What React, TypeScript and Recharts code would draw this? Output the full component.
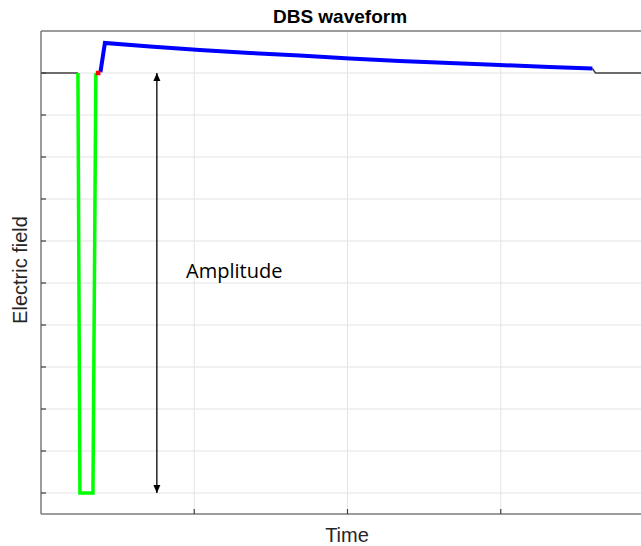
import React from "react";
import { LineChart, Line, XAxis, YAxis, CartesianGrid } from "recharts";

// time axis (arbitrary units) and electric field (normalised to amplitude)
const timeTicks = [1, 2, 3];
const fieldTicks = [-1, -0.9, -0.8, -0.7, -0.6, -0.5, -0.4, -0.3, -0.2, -0.1, 0];

const preTime = [0, 0.241];
const preField = [0, 0];

const cathodicTime = [0.241, 0.254, 0.339, 0.358];
const cathodicField = [0, -1, -1, 0];

const gapTime = [0.358, 0.388];
const gapField = [0, 0];

const anodicTime = [0.388, 0.417, 0.711, 1.036, 1.362, 1.688, 2.014, 2.34, 2.666, 2.992, 3.318, 3.598];
const anodicField = [0.002, 0.0714, 0.0631, 0.0548, 0.0476, 0.0417, 0.0345, 0.0286, 0.0238, 0.019, 0.0143, 0.0107];

const postTime = [3.598, 3.618, 4];
const postField = [0.0107, 0, 0];

const amplitudeTime = [0.756, 0.756];
const amplitudeField = [0, -1];

const zip = (xs: number[], ys: number[]) => xs.map((x, i) => ({ x, y: ys[i] }));

const NoLabel = () => <g />;

const ArrowHead = (props: any) => {
  const { cx, cy, index } = props;
  const dir = index === 0 ? 1 : -1;
  return (
    <path
      key={`arrow-${index}`}
      d={`M${cx},${cy} L${cx - 3.5},${cy + dir * 8} L${cx + 3.5},${cy + dir * 8} Z`}
      fill="#000"
    />
  );
};

const font = "'Liberation Sans', Arial, Helvetica, sans-serif";

export default function App() {
  return (
    <div style={{ position: "absolute", left: 0, top: 0, width: 641, height: 546, overflow: "hidden", background: "#fff" }}>
      <LineChart width={660} height={546} margin={{ top: 31, right: 6, bottom: 32, left: 41 }}>
        <CartesianGrid stroke="#e3e3e3" strokeWidth={1} />
        <XAxis
          type="number"
          dataKey="x"
          domain={[0, 4]}
          ticks={timeTicks}
          tick={NoLabel}
          mirror
          height={1}
          tickSize={5}
          axisLine={{ stroke: "#7f7f7f", strokeWidth: 1.5 }}
          tickLine={{ stroke: "#404040", strokeWidth: 1.2 }}
        />
        <XAxis
          xAxisId="top"
          orientation="top"
          type="number"
          dataKey="x"
          domain={[0, 4]}
          tick={NoLabel}
          tickLine={false}
          mirror
          height={1}
          axisLine={{ stroke: "#7f7f7f", strokeWidth: 1.5 }}
        />
        <YAxis
          type="number"
          dataKey="y"
          domain={[-1.05, 0.1]}
          ticks={fieldTicks}
          tick={NoLabel}
          mirror
          width={1}
          tickSize={5}
          axisLine={{ stroke: "#7f7f7f", strokeWidth: 1.5 }}
          tickLine={{ stroke: "#404040", strokeWidth: 1.2 }}
        />
        <Line data={zip(preTime, preField)} dataKey="y" stroke="#404040" strokeWidth={1.5} dot={false} isAnimationActive={false} />
        <Line data={zip(postTime, postField)} dataKey="y" stroke="#404040" strokeWidth={1.5} dot={false} isAnimationActive={false} />
        <Line data={zip(cathodicTime, cathodicField)} dataKey="y" stroke="#00ff00" strokeWidth={3.5} dot={false} isAnimationActive={false} />
        <Line data={zip(anodicTime, anodicField)} dataKey="y" stroke="#0000ff" strokeWidth={4} dot={false} isAnimationActive={false} />
        <Line data={zip(gapTime, gapField)} dataKey="y" stroke="#ff0000" strokeWidth={4.5} dot={false} isAnimationActive={false} />
        <Line data={zip(amplitudeTime, amplitudeField)} dataKey="y" stroke="#000" strokeWidth={1.3} dot={ArrowHead} isAnimationActive={false} />
      </LineChart>
      <div style={{ position: "absolute", left: 340, top: 7, transform: "translateX(-50%)", font: `bold 19px ${font}`, lineHeight: "19px", whiteSpace: "nowrap", color: "#000" }}>
        DBS waveform
      </div>
      <div style={{ position: "absolute", left: 347, top: 525, transform: "translateX(-50%)", font: `20px ${font}`, lineHeight: "20px", whiteSpace: "nowrap", color: "#262626" }}>
        Time
      </div>
      <div style={{ position: "absolute", left: 20, top: 270, transform: "translate(-50%, -50%) rotate(-90deg)", font: `20px ${font}`, lineHeight: "20px", whiteSpace: "nowrap", color: "#262626" }}>
        Electric field
      </div>
      <div style={{ position: "absolute", left: 186, top: 259, font: "20px 'Open Sans', 'Noto Sans', sans-serif", lineHeight: "24px", whiteSpace: "nowrap", color: "#000" }}>
        Amplitude
      </div>
    </div>
  );
}
